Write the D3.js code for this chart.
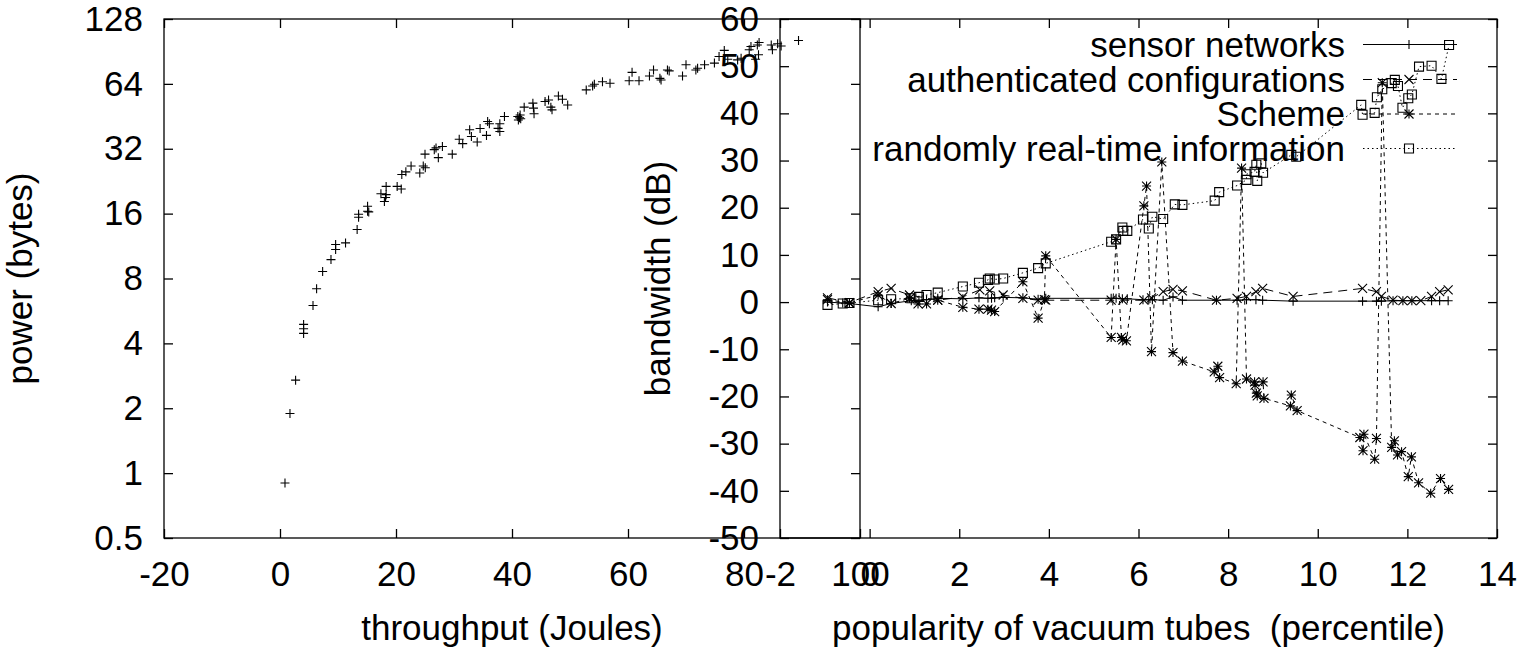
<!DOCTYPE html>
<html><head><meta charset="utf-8">
<script src="https://cdn.jsdelivr.net/npm/d3@7"></script>
<style>
html,body{margin:0;padding:0;background:#fff;}
svg text{font-family:"Liberation Sans",Arial,sans-serif;font-size:35px;fill:#000;white-space:pre;}
</style></head>
<body>
<svg id="c" width="1520" height="648"></svg>
<script>
// ---------- data: left panel ----------
const throughputX = [0.86,1.72,2.69,4.07,4.07,4.07,5.69,6.31,7.35,8.79,9.59,9.59,11.3,13.3,13.55,13.55,15.1,15.1,15.3,18.0,18.2,18.3,18.3,17.4,20.2,20.9,21.0,21.7,22.6,24.1,24.7,25.05,25.0,26.6,26.9,27.3,28.0,29.7,30.9,31.5,32.7,33.0,34.0,34.5,35.6,35.8,36.1,37.6,37.9,37.9,38.7,41.0,41.3,41.4,41.1,41.5,42.1,43.6,43.8,43.7,45.7,46.3,46.7,46.9,48.0,48.7,49.6,52.8,53.9,54.2,55.6,56.9,60.2,60.7,61.9,63.7,64.4,65.5,65.7,66.8,67.1,69.4,70.0,71.7,72.0,73.2,74.9,75.7,76.6,77.2,78.9,79.5,80.9,81.2,82.3,82.6,82.5,82.0,84.7,84.9,85.8,86.4,89.4];
const powerY = [0.9,1.89,2.70,4.90,4.68,4.45,6.0,7.17,8.62,9.79,10.9,11.5,11.7,13.5,15.4,15.9,16.4,17.3,16.3,18.2,19.0,19.6,21.4,19.8,21.4,20.8,24.3,25.0,26.6,24.7,26.6,26.1,30.2,31.7,32.3,29.1,32.8,30.2,35.4,33.8,39.2,36.5,34.4,39.7,36.9,42.8,41.8,39.8,38.5,41.8,45.2,45.2,44.6,45.9,43.5,44.1,49.9,52.1,46.5,49.4,53.0,53.9,49.9,48.5,56.2,54.3,51.1,60.0,62.6,63.7,65.5,64.4,66.2,72.4,66.2,69.6,74.2,67.9,66.7,74.2,73.5,69.6,78.5,74.2,75.6,78.5,79.9,85.7,91.5,83.3,82.7,84.2,92.1,95.4,97.0,99.5,87.3,83.3,97.0,92.1,98.2,96.0,101.7];
const leftXTicks = [-20,0,20,40,60,80,100];
const leftYTicks = [0.5,1,2,4,8,16,32,64,128];

// ---------- data: right panel ----------
const seriesNames = ["sensor networks","authenticated configurations","Scheme","randomly real-time information"];
const sensorX = [-0.94,-0.6,-0.45,0.19,0.48,0.93,1.1,1.27,1.52,2.08,2.44,2.64,2.72,2.79,2.98,3.42,3.76,3.93,5.39,5.5,5.64,5.75,6.1,6.23,6.31,6.55,6.77,6.98,7.74,8.2,8.41,8.62,8.77,9.45,11.0,11.31,11.42,11.68,11.9,12.1,12.54,12.72,12.91];
const sensorY = [0.0,-0.2,-0.3,-1.0,-0.3,0.3,0.4,0.5,0.8,0.7,0.9,0.8,0.8,0.9,1.0,0.9,0.6,0.8,0.8,0.8,0.7,0.7,0.5,0.5,0.5,0.4,1.1,0.4,0.4,0.4,0.5,0.5,0.4,0.2,0.2,0.2,0.2,0.3,0.3,0.3,0.3,0.3,0.3];
const authX = [-0.94,-0.45,0.19,0.48,0.89,1.52,2.08,2.46,2.68,2.98,3.42,3.76,3.93,5.39,5.65,6.12,6.29,6.55,6.77,6.98,7.74,8.2,8.41,8.62,8.77,9.45,11.0,11.31,11.42,11.68,11.9,12.1,12.3,12.54,12.72,12.91];
const authY = [0.9,-0.1,2.2,2.9,1.5,0.4,1.1,2.6,2.4,1.5,0.8,0.4,0.4,0.4,0.4,0.4,0.9,2.2,2.7,2.4,0.4,0.8,1.2,2.2,2.9,1.2,2.9,2.2,1.2,0.4,0.3,0.3,0.3,1.2,2.2,2.6];
const schemeX = [-0.94,-0.45,0.19,0.48,0.89,1.08,1.27,1.52,2.08,2.44,2.64,2.72,2.79,3.42,3.76,3.9,3.93,5.39,5.5,5.62,5.65,5.73,6.12,6.18,6.29,6.52,6.77,6.98,7.69,7.77,7.81,8.18,8.3,8.41,8.59,8.6,8.63,8.65,8.78,8.8,9.39,9.41,9.54,10.94,11.01,11.03,11.27,11.31,11.44,11.65,11.71,11.78,11.87,12.02,12.09,12.25,12.52,12.74,12.92];
const schemeY = [0.5,-0.2,1.5,-0.3,0.8,-0.4,-0.4,0.4,-1.1,-1.5,-1.5,-1.7,-2.0,4.3,-3.4,0.5,9.8,-7.5,13.3,-7.5,-8.0,-8.2,20.4,24.6,-10.5,29.7,-10.7,-12.5,-14.8,-13.6,-16.0,-17.3,28.4,-16.3,-16.9,-17.6,-19.3,-19.9,-16.9,-20.4,-22.0,-19.7,-23.0,-28.7,-31.5,-28.0,-33.3,-28.9,46.5,-30.8,-29.4,-32.4,-31.7,-37.0,-32.8,-38.3,-40.5,-37.4,-39.7];
const randomX = [-0.94,-0.6,-0.45,0.19,0.48,0.93,1.1,1.27,1.52,2.08,2.44,2.64,2.68,2.79,2.98,3.42,3.76,3.93,5.39,5.5,5.64,5.66,5.75,6.1,6.23,6.31,6.55,6.81,6.98,7.7,7.8,8.2,8.41,8.41,8.59,8.63,8.65,8.74,8.78,9.41,9.52,10.97,11.0,11.27,11.32,11.44,11.65,11.72,11.79,11.89,12.02,12.1,12.26,12.54,12.76,12.93];
const randomY = [-0.6,-0.3,-0.2,0.4,0.6,0.8,1.1,1.5,2.0,3.3,4.1,4.7,5.0,4.8,5.0,6.2,7.2,8.2,12.8,13.3,15.8,15.1,15.1,17.5,15.6,18.1,17.6,20.7,20.6,21.5,23.3,24.7,25.9,27.1,27.6,29.1,25.7,29.4,27.4,31.2,30.8,41.8,39.7,40.1,43.4,45.1,46.4,47.1,45.8,41.2,43.2,44.0,49.9,50.1,47.3,54.5];
const rightXTicks = [-2,0,2,4,6,8,10,12,14];
const rightYTicks = [-50,-40,-30,-20,-10,0,10,20,30,40,50,60];

// ---------- layout ----------
const svg = d3.select("#c");
const L = {x0:164, x1:860, y0:19, y1:538};
const R = {x0:780, x1:1497, y0:19, y1:538};
const TICK = 9;

const xL = d3.scaleLinear().domain([-20,100]).range([L.x0,L.x1]);
const yL = d3.scaleLog().base(2).domain([0.5,128]).range([L.y1,L.y0]);
const xR = d3.scaleLinear().domain([-2,14]).range([R.x0,R.x1]);
const yR = d3.scaleLinear().domain([-50,60]).range([R.y1,R.y0]);

function frame(P){
  svg.append("rect").attr("x",P.x0).attr("y",P.y0).attr("width",P.x1-P.x0).attr("height",P.y1-P.y0)
    .attr("fill","none").attr("stroke","#000").attr("stroke-width",1.3);
}
const fmt = d=>String(d);
function axes(P, xs, ys, xt, yt){
  const gb = svg.append("g").attr("transform",`translate(0,${P.y1})`)
    .call(d3.axisBottom(xs).tickValues(xt).tickSizeInner(-TICK).tickSizeOuter(0).tickPadding(23).tickFormat(fmt));
  const gt = svg.append("g").attr("transform",`translate(0,${P.y0})`)
    .call(d3.axisTop(xs).tickValues(xt).tickSizeInner(-TICK).tickSizeOuter(0).tickFormat(""));
  const gl = svg.append("g").attr("transform",`translate(${P.x0},0)`)
    .call(d3.axisLeft(ys).tickValues(yt).tickSizeInner(-TICK).tickSizeOuter(0).tickPadding(21).tickFormat(fmt));
  const gr = svg.append("g").attr("transform",`translate(${P.x1},0)`)
    .call(d3.axisRight(ys).tickValues(yt).tickSizeInner(-TICK).tickSizeOuter(0).tickFormat(""));
  [gb,gt,gl,gr].forEach(g=>{
    g.select(".domain").remove();
    g.selectAll("line").attr("stroke","#000").attr("stroke-width",1.3);
    g.selectAll("text").attr("fill","#000");
    g.attr("font-size",null).attr("font-family",null);
  });
}

frame(L); frame(R);
axes(L, xL, yL, leftXTicks, leftYTicks);
axes(R, xR, yR, rightXTicks, rightYTicks);

// axis titles
svg.append("text").attr("x",(L.x0+L.x1)/2).attr("y",640).attr("text-anchor","middle").text("throughput (Joules)");
svg.append("text").attr("x",(R.x0+R.x1)/2).attr("y",640).attr("text-anchor","middle").attr("xml:space","preserve").text("popularity of vacuum tubes  (percentile)");
svg.append("text").attr("transform",`translate(32,${(L.y0+L.y1)/2}) rotate(-90)`).attr("text-anchor","middle").text("power (bytes)");
svg.append("text").attr("transform",`translate(670,${(R.y0+R.y1)/2}) rotate(-90)`).attr("text-anchor","middle").text("bandwidth (dB)");

// markers
function marker(g, type, x, y){
  const s = 4.5;
  let d = "";
  if(type==="plus" || type==="star") d += `M${x-s},${y}H${x+s}M${x},${y-s}V${y+s}`;
  if(type==="cross" || type==="star") d += `M${x-s},${y-s}L${x+s},${y+s}M${x-s},${y+s}L${x+s},${y-s}`;
  if(type==="square") d += `M${x-s},${y-s}H${x+s}V${y+s}H${x-s}Z`;
  g.append("path").attr("d",d).attr("fill","none").attr("stroke","#000").attr("stroke-width",1.1);
}

// left panel points
const gLp = svg.append("g");
throughputX.forEach((x,i)=>marker(gLp,"plus",xL(x),yL(powerY[i])));

// right panel series
const series = [
  {xs:sensorX, ys:sensorY, m:"plus", dash:null},
  {xs:authX, ys:authY, m:"cross", dash:"9,6"},
  {xs:schemeX, ys:schemeY, m:"star", dash:"4,4"},
  {xs:randomX, ys:randomY, m:"square", dash:"1.5,3"}
];
const line = d3.line().x(d=>xR(d[0])).y(d=>yR(d[1]));
series.forEach(s=>{
  const pts = s.xs.map((x,i)=>[x,s.ys[i]]);
  svg.append("path").attr("d",line(pts)).attr("fill","none").attr("stroke","#000").attr("stroke-width",1)
    .attr("stroke-dasharray",s.dash);
  const g = svg.append("g");
  pts.forEach(p=>marker(g,s.m,xR(p[0]),yR(p[1])));
});

// legend
const legY = [44.5,79.5,114,148.5];
series.forEach((s,i)=>{
  svg.append("text").attr("x",1345).attr("y",legY[i]+12).attr("text-anchor","end").text(seriesNames[i]);
  svg.append("line").attr("x1",1363).attr("x2",1457).attr("y1",legY[i]).attr("y2",legY[i])
    .attr("stroke","#000").attr("stroke-width",1).attr("stroke-dasharray",s.dash);
  marker(svg,s.m,1409,legY[i]);
});
</script>
</body></html>
